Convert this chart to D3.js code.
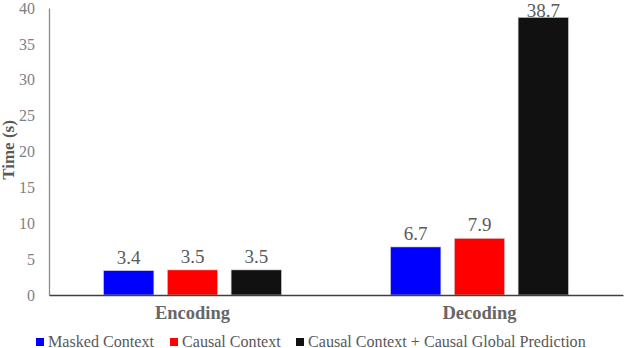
<!DOCTYPE html>
<html>
<head>
<meta charset="utf-8">
<script src="https://cdn.jsdelivr.net/npm/d3@7"></script>
<style>
  body { margin: 0; background: #fff; }
  svg { display: block; }
  svg text { font-family: "Liberation Serif", "Times New Roman", "DejaVu Serif", serif !important; }
</style>
</head>
<body>
<div id="chartbox"></div>
<script>
var categories = ["Encoding", "Decoding"];
var seriesNames = ["Masked Context", "Causal Context", "Causal Context + Causal Global Prediction"];
var seriesColors = ["#0000ff", "#ff0000", "#111111"];
var maskedValues = [3.4, 6.7];
var causalValues = [3.5, 7.9];
var globalValues = [3.5, 38.7];
var yTicks = [0, 5, 10, 15, 20, 25, 30, 35, 40];

var allSeries = [maskedValues, causalValues, globalValues];
var rows = [];
categories.forEach(function (c, i) {
  seriesNames.forEach(function (s, j) {
    rows.push({ cat: c, series: s, color: seriesColors[j], value: allSeries[j][i] });
  });
});

var W = 624, H = 348;
var margin = { left: 49, right: 623, top: 8, bottom: 295 };

var svg = d3.select('#chartbox').append('svg')
    .attr('width', W)
    .attr('height', H);

var x = d3.scaleBand().domain(categories).range([margin.left, margin.right]).padding(0);
var xs = d3.scaleBand().domain(seriesNames).range([54.5, 232.5]).paddingInner(0.21).paddingOuter(0);
var y = d3.scaleLinear().domain([0, 40]).range([margin.bottom, margin.top]);

// y axis
var yAxis = svg.append('g')
    .attr('transform', 'translate(' + margin.left + ',0)')
    .call(d3.axisLeft(y).tickValues(yTicks).tickSize(0).tickPadding(14));
yAxis.select('.domain').attr('stroke', '#8c8c8c').attr('stroke-width', 1.3);
yAxis.selectAll('text')
    .attr('fill', '#7f7f7f')
    .style('font-size', '16px');

svg.append('text')
    .attr('transform', 'translate(14,150) rotate(-90)')
    .attr('text-anchor', 'middle')
    .attr('fill', '#595959')
    .style('font-weight', 'bold')
    .style('font-size', '17px')
    .text('Time (s)');

// bars
svg.selectAll('rect.bar')
    .data(rows)
    .enter().append('rect')
    .attr('class', 'bar')
    .attr('x', function (d) { return x(d.cat) + xs(d.series); })
    .attr('y', function (d) { return y(d.value); })
    .attr('width', xs.bandwidth())
    .attr('height', function (d) { return y(0) - y(d.value); })
    .attr('fill', function (d) { return d.color; })
    .attr('stroke', '#d9d9d9')
    .attr('stroke-width', 0.6);

// value labels; the tall one sits just on its bar top so it stays inside the frame
svg.selectAll('text.val')
    .data(rows)
    .enter().append('text')
    .attr('class', 'val')
    .attr('x', function (d) { return x(d.cat) + xs(d.series) + xs.bandwidth() / 2; })
    .attr('y', function (d) { return Math.max(y(d.value) - 7, 17); })
    .attr('text-anchor', 'middle')
    .attr('fill', '#595959')
    .style('font-size', '19px')
    .text(function (d) { return d.value.toFixed(1); });

// x axis
var xAxis = svg.append('g')
    .attr('transform', 'translate(0,' + margin.bottom + ')')
    .call(d3.axisBottom(x).tickSize(0).tickPadding(11));
xAxis.select('.domain').attr('stroke', '#404040').attr('stroke-width', 1.3);
xAxis.selectAll('text')
    .attr('fill', '#666666')
    .style('font-size', '18.5px')
    .style('font-weight', 'bold');

// legend
var legendX = [36, 170, 296];
var legend = svg.selectAll('g.leg')
    .data(seriesNames)
    .enter().append('g')
    .attr('class', 'leg')
    .attr('transform', function (d, i) { return 'translate(' + legendX[i] + ',338)'; });
legend.append('rect')
    .attr('width', 8)
    .attr('height', 8)
    .attr('fill', function (d, i) { return seriesColors[i]; });
legend.append('text')
    .attr('x', 12)
    .attr('y', 8.5)
    .attr('fill', '#595959')
    .style('font-size', '16.1px')
    .text(function (d) { return d; });
</script>
</body>
</html>
